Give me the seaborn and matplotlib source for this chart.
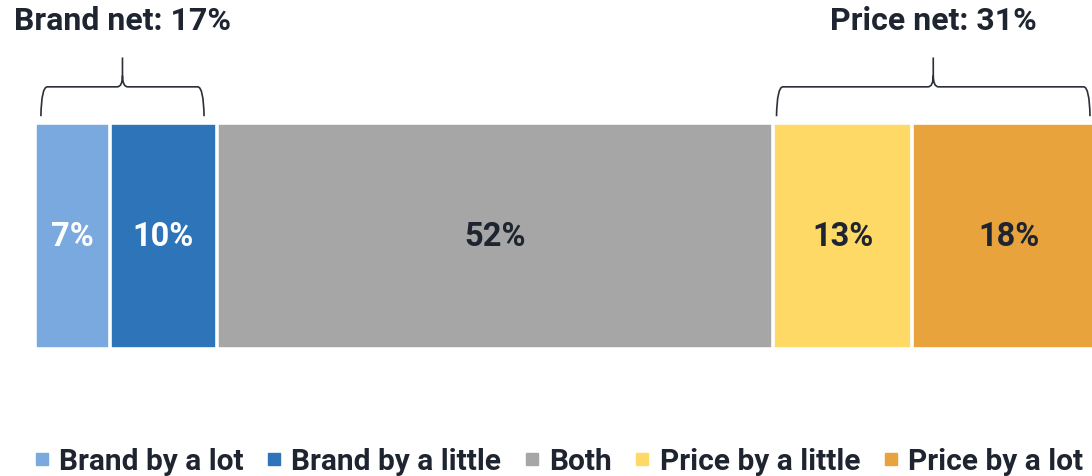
import numpy as np
import pandas as pd
import matplotlib
matplotlib.use("Agg")
import matplotlib.pyplot as plt
from matplotlib.path import Path
from matplotlib.patches import PathPatch
from matplotlib.lines import Line2D
import seaborn as sns

# Data
categories = ["Brand by a lot", "Brand by a little", "Both", "Price by a little", "Price by a lot"]
shares = [7, 10, 52, 13, 18]
colors = ["#79a9de", "#2e74b8", "#a6a6a6", "#fed966", "#e8a33c"]
label_colors = ["white", "white", "#1e2530", "#1e2530", "#1e2530"]
net_groups = [("Brand net", [0, 1]), ("Price net", [3, 4])]

sns.set_theme(style="white")
plt.rcParams["font.family"] = ["Roboto", "DejaVu Sans"]
plt.rcParams["font.weight"] = "bold"
text_color = "#1e2530"

fig = plt.figure(figsize=(10.92, 4.77), dpi=100)
W, H = 1092, 477
# the bar runs past the right edge of the figure
ax = fig.add_axes([35 / W, (H - 350) / H, 1070 / W, 226 / H])

cum = np.cumsum(shares)
df = pd.DataFrame({"category": categories, "share": shares, "cum": cum})

# Stacked bar: draw cumulative totals from the largest down
for i in reversed(range(len(categories))):
    sns.barplot(x=[df["cum"][i]], y=[""], orient="h", color=colors[i],
                saturation=1, width=1.0, edgecolor="white", linewidth=2.6,
                ax=ax)

ax.set_xlim(0, 100)
ax.set_ylim(0.5, -0.5)
ax.axis("off")

# Segment labels
for i, (v, c) in enumerate(zip(shares, cum)):
    ax.text(c - v / 2, 0.0, f"{v}%", ha="center", va="center",
            fontsize=23.5, fontweight="bold", color=label_colors[i])


def bracket(ax, x0, x1, y_bot, y_mid, y_tip, end_dx=0.6, tip_dx=0.5):
    xt = (x0 + x1) / 2
    verts = [
        (x0, y_bot), (x0 + 0.05, y_mid), (x0 + end_dx, y_mid),
        (xt - tip_dx, y_mid),
        (xt, y_mid), (xt, y_mid - 0.05),
        (xt, y_tip),
        (xt, y_mid - 0.05),
        (xt, y_mid), (xt + tip_dx, y_mid),
        (x1 - end_dx, y_mid),
        (x1 - 0.05, y_mid), (x1, y_bot),
    ]
    codes = [Path.MOVETO, Path.CURVE3, Path.CURVE3,
             Path.LINETO,
             Path.CURVE3, Path.CURVE3,
             Path.LINETO,
             Path.MOVETO,
             Path.CURVE3, Path.CURVE3,
             Path.LINETO,
             Path.CURVE3, Path.CURVE3]
    ax.add_patch(PathPatch(Path(verts, codes), fill=False, edgecolor="#2b2f37",
                           linewidth=1.2, clip_on=False, capstyle="butt"))
    return xt


# Net brackets above the bar (y grows downward on this axis)
y_bot, y_mid, y_tip, y_title = -0.53, -0.66, -0.79, -0.955
bracket_ends = [(0.55, 15.8), (69.3, 98.6)]
for (name, idx), (x0, x1) in zip(net_groups, bracket_ends):
    total = sum(shares[j] for j in idx)
    xt = bracket(ax, x0, x1, y_bot, y_mid, y_tip)
    ax.text(xt, y_title, f"{name}: {total}%", ha="center", va="center",
            fontsize=23, fontweight="bold", color=text_color, clip_on=False)

# Legend
handles = [Line2D([0], [0], marker="s", linestyle="none", markersize=8.5,
                  markerfacecolor=c, markeredgecolor=c) for c in colors]
fig.legend(handles, categories, loc="center", bbox_to_anchor=(559 / W, 1 - 462 / H),
           ncol=5, frameon=False, handlelength=0.45, handletextpad=0.35,
           columnspacing=0.8, prop={"family": "Roboto", "weight": "bold", "size": 21.5},
           labelcolor=text_color)

fig.savefig("out.png", dpi=100)
